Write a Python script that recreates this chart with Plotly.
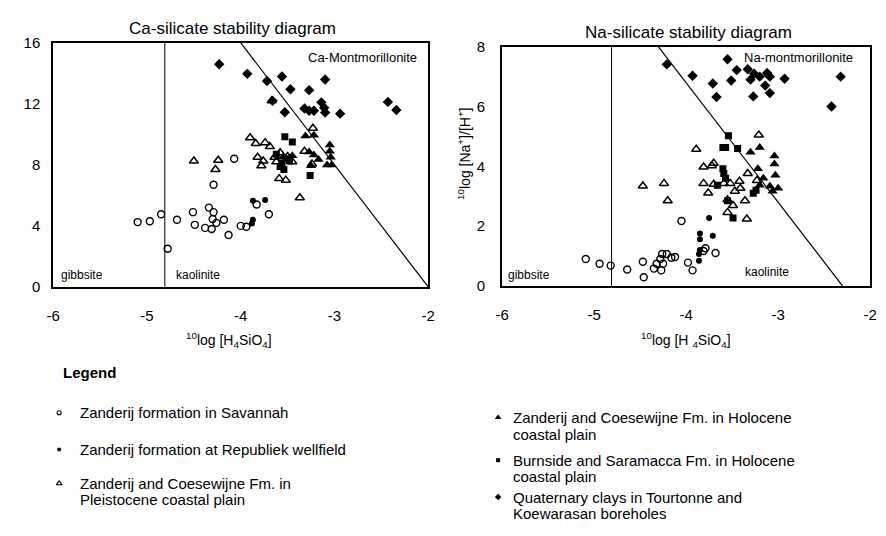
import plotly.graph_objects as go

# ---------------- DATA ----------------
x_ticks = [-6, -5, -4, -3, -2]
x_ticklabels = ["-6", "-5", "-4", "-3", "-2"]
ca_y_ticks = [0, 4, 8, 12, 16]
na_y_ticks = [0, 2, 4, 6, 8]

# stability boundaries
ca_gibbsite_x = [-4.81, -4.81]
ca_gibbsite_y = [0, 16]
ca_mont_x = [-4.0, -2.0]
ca_mont_y = [16, 0]
na_gibbsite_x = [-4.81, -4.81]
na_gibbsite_y = [0, 8]
na_mont_x = [-4.3, -2.3]
na_mont_y = [8, 0]

# ---- Ca-silicate diagram ----
ca_sav_x = [-5.10, -4.97, -4.85, -4.68, -4.78, -4.51, -4.49, -4.38, -4.34, -4.31, -4.30, -4.29, -4.18,
            -4.13, -4.29, -4.07, -4.00, -3.94, -3.83, -3.70, -4.26]
ca_sav_y = [4.25, 4.30, 4.76, 4.40, 2.50, 4.90, 4.07, 3.87, 5.20, 3.80, 4.45, 6.70, 4.40,
            3.40, 4.90, 8.40, 4.00, 3.94, 5.40, 4.76, 4.20]
ca_rep_x = [-3.87, -3.74, -3.87, -3.88]
ca_rep_y = [5.65, 5.70, 4.40, 4.15]
ca_ple_x = [-4.50, -4.24, -4.27, -3.90, -3.84, -3.74, -3.69, -3.82, -3.78, -3.59, -3.52, -3.23, -3.32,
            -3.24, -3.37, -3.67, -3.64, -3.58, -3.50, -3.45, -3.76, -3.62]
ca_ple_y = [8.25, 8.30, 7.70, 9.78, 9.40, 9.46, 9.20, 8.50, 7.94, 7.10, 7.00, 10.40, 8.90,
            8.06, 5.85, 12.20, 8.50, 8.80, 8.55, 8.20, 8.25, 8.20]
ca_hol_x = [-3.31, -3.22, -3.27, -3.22, -3.17, -3.25, -3.05, -3.05, -3.04, -3.08, -3.03, -3.55, -3.45]
ca_hol_y = [9.90, 9.95, 8.85, 8.65, 8.35, 7.95, 9.30, 8.90, 8.50, 8.00, 8.00, 8.50, 8.60]
ca_bur_x = [-3.53, -3.45, -3.26, -3.56, -3.52, -3.62, -3.58, -3.48, -3.54]
ca_bur_y = [9.85, 9.50, 7.30, 8.10, 8.40, 8.70, 7.90, 8.25, 7.70]
ca_qua_x = [-4.23, -3.93, -3.72, -3.56, -3.47, -3.27, -3.10, -3.66, -3.53, -3.32, -3.27, -3.22, -3.14,
            -3.11, -3.10, -2.94, -2.43, -2.34]
ca_qua_y = [14.6, 13.97, 13.5, 13.8, 12.96, 12.9, 13.6, 12.2, 11.45, 11.7, 11.55, 11.55, 12.1,
            11.75, 11.43, 11.36, 12.13, 11.6]

# ---- Na-silicate diagram ----
na_sav_x = [-5.09, -4.94, -4.82, -4.64, -4.47, -4.46, -4.35, -4.32, -4.28, -4.26, -4.21, -4.25, -4.27,
            -4.16, -4.12, -4.05, -3.98, -3.93, -3.81, -3.79, -3.68]
na_sav_y = [0.90, 0.74, 0.68, 0.55, 0.81, 0.29, 0.58, 0.74, 0.90, 1.07, 1.07, 0.74, 0.52,
            0.94, 0.97, 2.17, 0.78, 0.52, 1.17, 1.26, 1.10]
na_rep_x = [-3.75, -3.85, -3.85, -3.71, -3.86, -3.86, -3.85]
na_rep_y = [2.27, 1.75, 1.56, 1.68, 1.07, 0.84, 1.20]
na_ple_x = [-4.47, -4.24, -4.20, -3.89, -3.81, -3.72, -3.81, -3.76, -3.70, -3.59, -3.52, -3.42, -3.41,
            -3.47, -3.55, -3.49, -3.55, -3.36, -3.34, -3.33, -3.23, -3.21, -3.70]
na_ple_y = [3.34, 3.43, 2.85, 4.57, 3.98, 4.02, 3.43, 3.11, 3.40, 3.43, 3.43, 3.50, 3.27,
            3.17, 2.88, 2.69, 2.46, 2.85, 2.24, 3.76, 3.53, 5.05, 4.10]
na_hol_x = [-3.30, -3.20, -3.04, -3.04, -3.03, -3.22, -3.16, -3.09, -3.00, -3.06, -3.20]
na_hol_y = [4.47, 4.63, 4.35, 4.08, 3.70, 3.92, 3.60, 3.33, 3.27, 3.17, 3.37]
na_bur_x = [-3.54, -3.60, -3.57, -3.44, -3.60, -3.59, -3.57, -3.55, -3.49, -3.27, -3.24, -3.66]
na_bur_y = [5.02, 4.63, 4.63, 4.60, 3.92, 3.76, 3.60, 2.85, 2.27, 3.10, 3.20, 3.37]
na_qua_x = [-4.21, -3.55, -3.93, -3.71, -3.67, -3.51, -3.45, -3.33, -3.30, -3.26, -3.20, -3.12, -3.09,
            -3.14, -3.27, -3.09, -2.93, -2.32, -2.42]
na_qua_y = [7.41, 7.58, 7.03, 6.77, 6.32, 6.87, 7.22, 7.25, 6.90, 7.10, 7.00, 7.12, 7.00,
            6.70, 6.34, 6.45, 6.93, 7.00, 6.00]

legend_lines = [
    ["Zanderij formation in Savannah"],
    ["Zanderij formation at Republiek wellfield"],
    ["Zanderij and Coesewijne Fm. in", "Pleistocene coastal plain"],
    ["Zanderij and Coesewijne Fm. in Holocene", "coastal plain"],
    ["Burnside and Saramacca Fm. in Holocene", "coastal plain"],
    ["Quaternary clays in Tourtonne and", "Koewarasan boreholes"],
]

# ---------------- STYLE ----------------
FONT = "Liberation Sans, Arial, sans-serif"
W, H = 886, 536
styles = {
    "sav": dict(symbol="circle-open", size=7, line=dict(width=1.4, color="black"), color="black"),
    "rep": dict(symbol="circle", size=6, color="black"),
    "ple": dict(symbol="triangle-up-open", size=8, line=dict(width=1.5, color="black"), color="black"),
    "hol": dict(symbol="triangle-up", size=9, color="black"),
    "bur": dict(symbol="square", size=7, color="black"),
    "qua": dict(symbol="diamond", size=8, color="black"),
}

fig = go.Figure()

def add_pts(x, y, key, xa, ya):
    fig.add_trace(go.Scatter(x=x, y=y, mode="markers", marker=styles[key],
                             xaxis=xa, yaxis=ya, showlegend=False, hoverinfo="skip"))

def add_line(x, y, xa, ya, w=1.2):
    fig.add_trace(go.Scatter(x=x, y=y, mode="lines", line=dict(color="black", width=w),
                             xaxis=xa, yaxis=ya, showlegend=False, hoverinfo="skip"))

# Ca panel
add_line(ca_gibbsite_x, ca_gibbsite_y, "x", "y", 1.0)
add_line(ca_mont_x, ca_mont_y, "x", "y", 1.2)
for key, xs, ys in [("sav", ca_sav_x, ca_sav_y), ("rep", ca_rep_x, ca_rep_y),
                    ("ple", ca_ple_x, ca_ple_y), ("bur", ca_bur_x, ca_bur_y),
                    ("hol", ca_hol_x, ca_hol_y), ("qua", ca_qua_x, ca_qua_y)]:
    add_pts(xs, ys, key, "x", "y")

# Na panel
add_line(na_gibbsite_x, na_gibbsite_y, "x2", "y2", 1.0)
add_line(na_mont_x, na_mont_y, "x2", "y2", 1.2)
for key, xs, ys in [("sav", na_sav_x, na_sav_y), ("rep", na_rep_x, na_rep_y),
                    ("ple", na_ple_x, na_ple_y), ("bur", na_bur_x, na_bur_y),
                    ("hol", na_hol_x, na_hol_y), ("qua", na_qua_x, na_qua_y)]:
    add_pts(xs, ys, key, "x2", "y2")

# Legend keys on a pixel overlay axis
leg_keys = ["sav", "rep", "ple", "hol", "bur", "qua"]
leg_pos = [(53, 417), (53, 455), (53, 490), (499, 422), (499, 466), (499, 504)]
leg_text_x = [72, 72, 72, 512, 512, 512]
LINE_GAP = 17
for k, (px, py) in zip(leg_keys, leg_pos):
    m = dict(styles[k])
    m["size"] = max(4, m["size"] - 3)
    if "line" in m:
        m["line"] = dict(width=1.1, color="black")
    fig.add_trace(go.Scatter(x=[px], y=[py], mode="markers", marker=m, xaxis="x3", yaxis="y3",
                             showlegend=False, hoverinfo="skip"))

axis_common = dict(showline=True, mirror=True, linecolor="black", linewidth=2,
                   showgrid=False, zeroline=False, ticks="",
                   tickfont=dict(family=FONT, size=15, color="black"))

def px2fx(p):
    return p / W

def px2fy(p):
    return 1 - p / H

fig.update_layout(
    width=W, height=H,
    margin=dict(l=0, r=0, t=0, b=0),
    paper_bgcolor="white", plot_bgcolor="rgba(0,0,0,0)",
    showlegend=False,
    xaxis=dict(**axis_common, domain=[px2fx(47), px2fx(428)], range=[-6, -2],
               tickvals=x_ticks, ticktext=x_ticklabels, ticklabelstandoff=14, anchor="y"),
    yaxis=dict(**axis_common, domain=[px2fy(287), px2fy(35)], range=[0, 16],
               tickvals=ca_y_ticks, ticklabelstandoff=8, anchor="x"),
    xaxis2=dict(**axis_common, domain=[px2fx(503), px2fx(877)], range=[-6, -2],
                tickvals=x_ticks, ticktext=x_ticklabels, ticklabelstandoff=14, anchor="y2"),
    yaxis2=dict(**axis_common, domain=[px2fy(286), px2fy(39)], range=[0, 8],
                tickvals=na_y_ticks, ticklabelstandoff=12, anchor="x2"),
    xaxis3=dict(domain=[0, 1], range=[0, W], visible=False, anchor="y3"),
    yaxis3=dict(domain=[0, 1], range=[H, 0], visible=False, anchor="x3"),
)

ann = []
def txt(x, y, s, size=12, xanchor="center", bold=False, angle=0):
    if bold:
        s = "<b>" + s + "</b>"
    ann.append(dict(x=px2fx(x), y=px2fy(y), xref="paper", yref="paper", text=s, showarrow=False,
                    xanchor=xanchor, yanchor="middle", textangle=angle, align="left",
                    font=dict(family=FONT, size=size, color="black")))

# titles
txt(229, 20, "Ca-silicate stability diagram", 17)
txt(692, 24, "Na-silicate stability diagram", 17)
# axis titles
txt(226, 342, "<sup>10</sup>log [H<sub>4</sub>SiO<sub>4</sub>]", 14)
txt(690, 342, "<sup>10</sup>log [H <sub>4</sub>SiO<sub>4</sub>]", 14)
txt(465, 150, "<sup>10</sup>log [Na<sup>+</sup>]/[H<sup>+</sup>]", 14, angle=-90)
# field labels
txt(53, 275, "gibbsite", 12, "left")
txt(170, 275, "kaolinite", 12, "left")
txt(419, 50, "Ca-Montmorillonite", 13, "right")
txt(507, 275, "gibbsite", 12, "left")
txt(748, 272, "kaolinite", 12, "left")
txt(862, 50, "Na-montmorillonite", 13, "right")
# legend
txt(55, 375, "Legend", 15, "left", bold=True)
for lines, tx, (px, py) in zip(legend_lines, leg_text_x, leg_pos):
    for i, line in enumerate(lines):
        txt(tx, py + i * LINE_GAP, line, 15, "left")

fig.update_layout(annotations=ann)
fig.write_html("out.html")
